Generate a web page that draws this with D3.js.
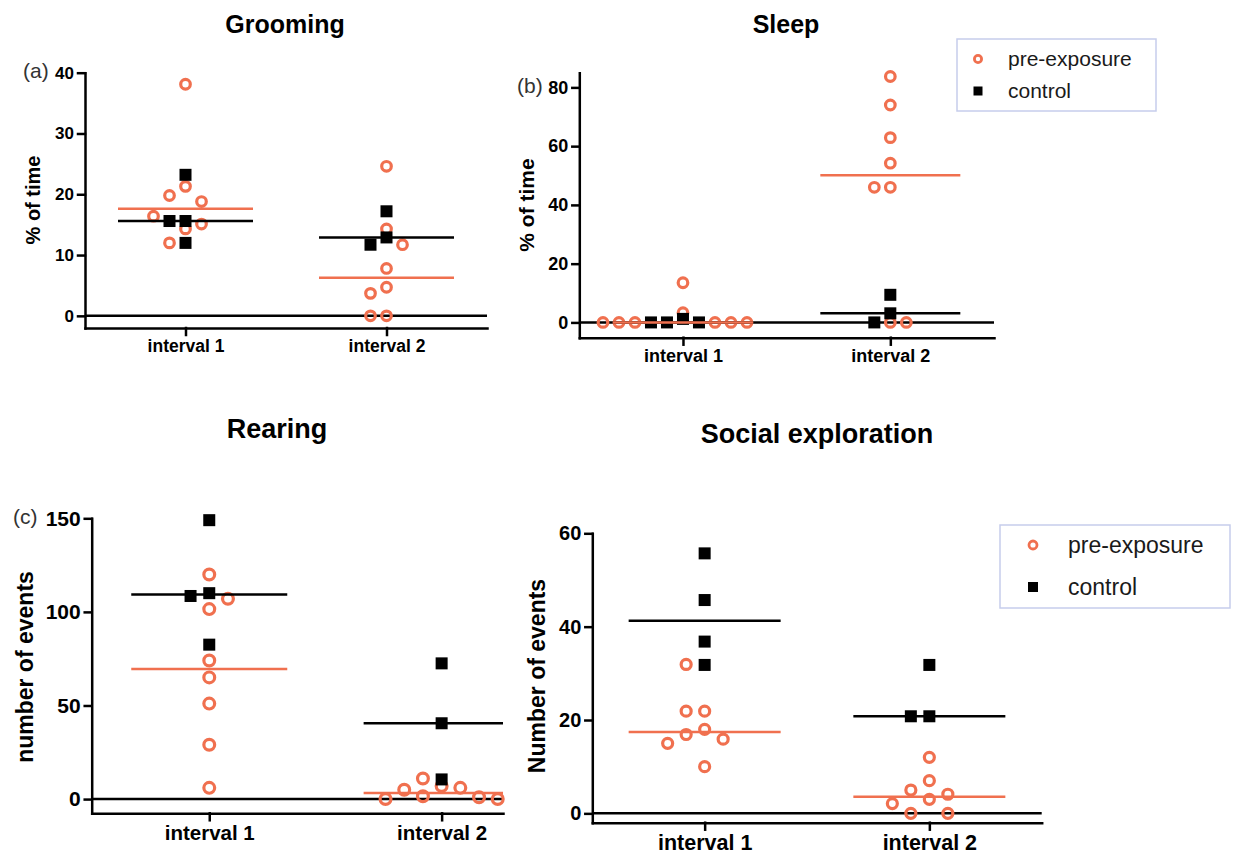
<!DOCTYPE html>
<html>
<head>
<meta charset="utf-8">
<script src="https://cdnjs.cloudflare.com/ajax/libs/d3/7.8.5/d3.min.js"></script>
<style>
body { margin: 0; background: #fff; }
text { font-family: "Liberation Sans", Arial, sans-serif; }
</style>
</head>
<body>
<svg id="chart" width="1234" height="855"></svg>
<script>
// values, one entry per animal
const intervals = ["interval 1", "interval 2"];
const seriesNames = ["pre-exposure", "control"];

const groomingPre1 = [38.1, 21.3, 19.8, 18.8, 16.4, 15.1, 14.3, 12.0];
const groomingPre2 = [24.6, 14.3, 11.7, 7.8, 4.7, 3.7, 0, 0];
const groomingCtl1 = [23.2, 15.6, 15.6, 12.0];
const groomingCtl2 = [17.2, 12.9, 11.7];
const groomingTicks = [0, 10, 20, 30, 40];

const sleepPre1 = [13.5, 3.3, 0, 0, 0, 0, 0, 0];
const sleepPre2 = [83.7, 74.0, 62.9, 54.2, 46.0, 46.0, 0, 0];
const sleepCtl1 = [1.2, 0, 0, 0];
const sleepCtl2 = [9.4, 3.1, 0];
const sleepTicks = [0, 20, 40, 60, 80];

const rearingPre1 = [120, 107, 101.5, 74, 65, 51, 29, 6];
const rearingPre2 = [11, 7, 6, 5, 1.5, 1, 0, 0];
const rearingCtl1 = [149, 110, 108.5, 82.5];
const rearingCtl2 = [72.5, 40.5, 10.5];
const rearingTicks = [0, 50, 100, 150];

const socialPre1 = [31.9, 21.9, 21.9, 18, 16.9, 15.9, 15, 10];
const socialPre2 = [12, 7, 5, 4.1, 3, 2.1, 0, 0];
const socialCtl1 = [55.7, 45.7, 36.8, 31.8];
const socialCtl2 = [31.8, 20.8, 20.8];
const socialTicks = [0, 20, 40, 60];

const preColor = "#f0704f";

// layout of each of the four panels
const panels = [
    {title: "Grooming", tag: "(a)", yLabel: "% of time", ticks: groomingTicks,
     pre: [groomingPre1, groomingPre2], ctl: [groomingCtl1, groomingCtl2],
     yDomain: [-2, 40], yRange: [328, 72.7], xRange: [85, 487], pad: 0.5, align: 0.5,
     titleX: 285, titleY: 33, titleSize: 25, tagX: 23, tagY: 78,
     labelX: 33, labelY: 200, labelSize: 20, tickFont: 17, xTickFont: 17.5, step: 16, half: 67.5, r: 4.8},
    {title: "Sleep", tag: "(b)", yLabel: "% of time", ticks: sleepTicks,
     pre: [sleepPre1, sleepPre2], ctl: [sleepCtl1, sleepCtl2],
     yDomain: [-5.2, 85], yRange: [337.7, 72.7], xRange: [579.3, 994], pad: 0.5, align: 0.5,
     titleX: 786, titleY: 33, titleSize: 25, tagX: 517, tagY: 93,
     labelX: 527, labelY: 205, labelSize: 21, tickFont: 18, xTickFont: 18, step: 16, half: 70, r: 4.8},
    {title: "Rearing", tag: "(c)", yLabel: "number of events", ticks: rearingTicks,
     pre: [rearingPre1, rearingPre2], ctl: [rearingCtl1, rearingCtl2],
     yDomain: [-7.6, 150], yRange: [813.3, 518.3], xRange: [91.7, 503], pad: 0.385, align: 0.657,
     titleX: 277, titleY: 438, titleSize: 27, tagX: 13, tagY: 524,
     labelX: 25, labelY: 667, labelSize: 23, tickFont: 21, xTickFont: 20.5, step: 18.7, half: 78, r: 5.4},
    {title: "Social exploration", tag: "", yLabel: "Number of events", ticks: socialTicks,
     pre: [socialPre1, socialPre2], ctl: [socialCtl1, socialCtl2],
     yDomain: [-2, 60], yRange: [822.7, 533.3], xRange: [592.3, 1041.7], pad: 0.5, align: 0.5,
     titleX: 817, titleY: 443, titleSize: 27, tagX: 0, tagY: 0,
     labelX: 537, labelY: 676, labelSize: 23, tickFont: 20, xTickFont: 21.5, step: 18.5, half: 76, r: 5}
];

const legends = [
    {x: 957, y: 39, w: 199, h: 72, font: 21, mx: 978, tx: 1008, rows: [59, 91], base: 7, r: 3.6, sq: 9},
    {x: 1000, y: 525, w: 230, h: 83, font: 23, mx: 1033, tx: 1068, rows: [545, 587], base: 7.5, r: 4, sq: 10}
];

let svg = d3.select("#chart");

// greedy column spread: control squares go first, then the circles;
// overlapping points get pushed to -1,+1,-2,+2 ... slots
function swarm(ctlVals, preVals, y) {
    let byPos = (a, b) => a.py - b.py;
    let ctl = ctlVals.map(v => ({v: v, py: y(v), kind: "ctl"})).sort(byPos);
    let pre = preVals.map(v => ({v: v, py: y(v), kind: "pre"})).sort(byPos);
    let placed = [];
    ctl.concat(pre).forEach(p => {
        for (let k = 0; k < 40; k++) {
            let slot = k === 0 ? 0 : (k % 2 ? -Math.ceil(k / 2) : k / 2);
            let hit = placed.some(q => q.slot === slot &&
                Math.abs(q.py - p.py) < (q.kind === p.kind ? 16 : 6));
            if (!hit) { p.slot = slot; placed.push(p); break; }
        }
    });
    return placed;
}

panels.forEach(p => {
    let g = svg.append("g");

    let x = d3.scalePoint()
        .domain(intervals)
        .range(p.xRange)
        .padding(p.pad)
        .align(p.align);

    let y = d3.scaleLinear()
        .domain(p.yDomain)
        .range(p.yRange);

    // zero line across the plot
    g.append("line")
        .attr("x1", p.xRange[0]).attr("x2", p.xRange[1])
        .attr("y1", y(0)).attr("y2", y(0))
        .attr("stroke", "#000")
        .attr("stroke-width", 2.5);

    let xAxis = g.append("g")
        .attr("transform", "translate(0," + p.yRange[0] + ")")
        .call(d3.axisBottom(x).tickSize(7).tickSizeOuter(0).tickPadding(5));
    xAxis.attr("font-size", p.xTickFont);

    let yAxis = g.append("g")
        .attr("transform", "translate(" + p.xRange[0] + ",0)")
        .call(d3.axisLeft(y).tickValues(p.ticks).tickSize(7).tickSizeOuter(0).tickPadding(4));
    yAxis.attr("font-size", p.tickFont);

    [xAxis, yAxis].forEach(a => {
        a.attr("font-family", "'Liberation Sans', Arial, sans-serif")
            .attr("font-weight", "bold");
        a.selectAll("path, line")
            .attr("stroke", "#000")
            .attr("stroke-width", 2.5)
            .attr("stroke-linecap", "square");
        a.selectAll("text").attr("fill", "#000");
    });

    intervals.forEach((c, i) => {
        let cx = x(c);
        let pts = swarm(p.ctl[i], p.pre[i], y);

        g.selectAll(null)
            .data(pts.filter(d => d.kind === "pre"))
            .enter()
            .append("circle")
            .attr("cx", d => cx + d.slot * p.step)
            .attr("cy", d => d.py)
            .attr("r", p.r)
            .attr("fill", "none")
            .attr("stroke", preColor)
            .attr("stroke-width", 3.2);

        g.selectAll(null)
            .data(pts.filter(d => d.kind === "ctl"))
            .enter()
            .append("rect")
            .attr("x", d => cx + d.slot * p.step - 6)
            .attr("y", d => d.py - 6)
            .attr("width", 12)
            .attr("height", 12)
            .attr("fill", "#000");

        // median lines, control first so the orange one sits on top
        [[p.ctl[i], "#000"], [p.pre[i], preColor]].forEach(([vals, col]) => {
            g.append("line")
                .attr("x1", cx - p.half)
                .attr("x2", Math.min(cx + p.half, p.xRange[1]))
                .attr("y1", y(d3.median(vals)))
                .attr("y2", y(d3.median(vals)))
                .attr("stroke", col)
                .attr("stroke-width", 2.5);
        });
    });

    g.append("text")
        .attr("x", p.titleX)
        .attr("y", p.titleY)
        .attr("text-anchor", "middle")
        .attr("font-size", p.titleSize)
        .attr("font-weight", "bold")
        .text(p.title);

    if (p.tag) {
        g.append("text")
            .attr("x", p.tagX)
            .attr("y", p.tagY)
            .attr("font-size", 21)
            .attr("fill", "#333")
            .text(p.tag);
    }

    g.append("text")
        .attr("transform", "translate(" + p.labelX + "," + p.labelY + ")rotate(-90)")
        .attr("text-anchor", "middle")
        .attr("dy", "0.35em")
        .attr("font-size", p.labelSize)
        .attr("font-weight", "bold")
        .text(p.yLabel);
});

// the two legend boxes
legends.forEach(l => {
    let g = svg.append("g");
    g.append("rect")
        .attr("x", l.x).attr("y", l.y)
        .attr("width", l.w).attr("height", l.h)
        .attr("fill", "#fff")
        .attr("stroke", "#c6cdec")
        .attr("stroke-width", 1.5);

    g.append("circle")
        .attr("cx", l.mx).attr("cy", l.rows[0])
        .attr("r", l.r)
        .attr("fill", "none")
        .attr("stroke", preColor)
        .attr("stroke-width", 2.8);

    g.append("rect")
        .attr("x", l.mx - l.sq / 2).attr("y", l.rows[1] - l.sq / 2)
        .attr("width", l.sq).attr("height", l.sq)
        .attr("fill", "#000");

    seriesNames.forEach((s, i) => {
        g.append("text")
            .attr("x", l.tx)
            .attr("y", l.rows[i] + l.base)
            .attr("font-size", l.font)
            .attr("fill", "#1a1a1a")
            .text(s);
    });
});
</script>
</body>
</html>
